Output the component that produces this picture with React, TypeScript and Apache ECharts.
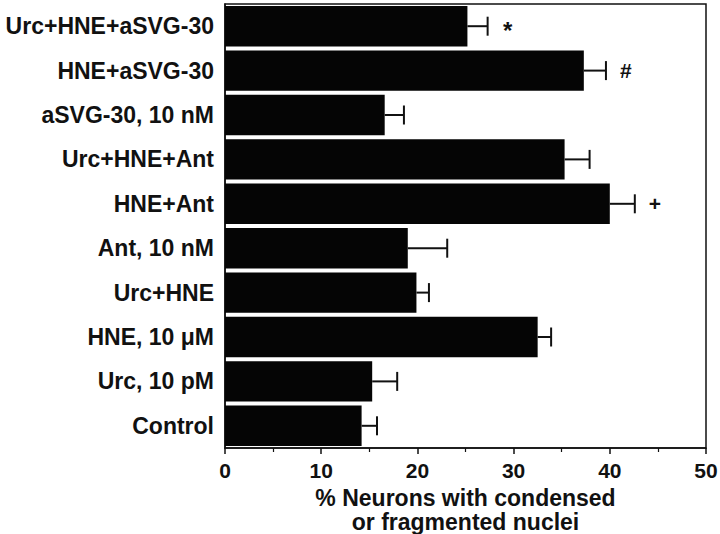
import React, { useEffect, useRef } from "react";
import * as echarts from "echarts";

const categories = [
  "Urc+HNE+aSVG-30",
  "HNE+aSVG-30",
  "aSVG-30, 10 nM",
  "Urc+HNE+Ant",
  "HNE+Ant",
  "Ant, 10 nM",
  "Urc+HNE",
  "HNE, 10 \u03bcM",
  "Urc, 10 pM",
  "Control",
];
const values = [25.2, 37.3, 16.6, 35.3, 40.0, 19.0, 19.9, 32.5, 15.3, 14.2];
const errors = [2.1, 2.3, 2.0, 2.6, 2.6, 4.1, 1.3, 1.4, 2.6, 1.6];
const markers = ["*", "#", "", "", "+", "", "", "", "", ""];
const xTicks = [0, 10, 20, 30, 40, 50];

const FONT = "Liberation Sans, Arial, Helvetica, sans-serif";

export default function App() {
  const ref = useRef<HTMLDivElement>(null);
  useEffect(() => {
    if (!ref.current) return;
    const chart = echarts.init(ref.current, null, { renderer: "svg" });
    const errData = values.map((v, i) => [v, i, v + errors[i], markers[i]]);
    chart.setOption({
      animation: false,
      backgroundColor: "#ffffff",
      grid: {
        left: 225,
        right: 14,
        top: 4,
        bottom: 86,
        outerBoundsMode: "none",
        show: true,
        borderColor: "#111",
        borderWidth: 1.5,
        backgroundColor: "transparent",
      },
      xAxis: {
        type: "value",
        min: xTicks[0],
        max: xTicks[xTicks.length - 1],
        interval: 10,
        splitLine: { show: false },
        axisLine: { show: true, lineStyle: { color: "#111", width: 1.5 } },
        axisTick: { show: true, length: 6, lineStyle: { color: "#111", width: 1.5 } },
        minorTick: { show: true, splitNumber: 2, length: 4, lineStyle: { color: "#111", width: 1.2 } },
        axisLabel: {
          color: "#111",
          fontFamily: FONT,
          fontWeight: "bold",
          fontSize: 21,
          margin: 12,
        },
        name: "% Neurons with condensed\nor fragmented nuclei",
        nameLocation: "middle",
        nameGap: 27,
        nameTextStyle: {
          color: "#111",
          fontFamily: FONT,
          fontWeight: "bold",
          fontSize: 23,
          lineHeight: 24,
          verticalAlign: "top",
        },
      },
      yAxis: {
        type: "category",
        data: categories,
        inverse: true,
        axisLine: { show: true, lineStyle: { color: "#111", width: 1.5 } },
        axisTick: { show: false },
        splitLine: { show: false },
        axisLabel: {
          color: "#111",
          fontFamily: FONT,
          fontWeight: "bold",
          fontSize: 23,
          margin: 11,
        },
      },
      series: [
        {
          type: "bar",
          data: values,
          barCategoryGap: "9%",
          itemStyle: { color: "#050505" },
        },
        {
          type: "custom",
          data: errData,
          renderItem: (params: any, api: any) => {
            const y = api.value(1);
            const start = api.coord([api.value(0), y]);
            const end = api.coord([api.value(2), y]);
            const mark = markers[params.dataIndex];
            const children: any[] = [
              {
                type: "line",
                shape: { x1: start[0], y1: start[1], x2: end[0], y2: end[1] },
                style: { stroke: "#111", lineWidth: 2 },
              },
              {
                type: "line",
                shape: { x1: end[0], y1: end[1] - 9.5, x2: end[0], y2: end[1] + 9.5 },
                style: { stroke: "#111", lineWidth: 2 },
              },
            ];
            if (mark) {
              children.push({
                type: "text",
                x: end[0] + 20,
                y: end[1] + (mark === "*" ? 4 : 0),
                style: {
                  text: mark,
                  fill: "#111",
                  font: `bold ${mark === "*" ? 24 : 21}px ${FONT}`,
                  textAlign: "center",
                  textVerticalAlign: "middle",
                },
              });
            }
            return { type: "group", children };
          },
          z: 3,
        },
      ],
    });
    return () => chart.dispose();
  }, []);
  return <div ref={ref} style={{ width: 720, height: 534, position: "absolute", left: 0, top: 0 }} />;
}
